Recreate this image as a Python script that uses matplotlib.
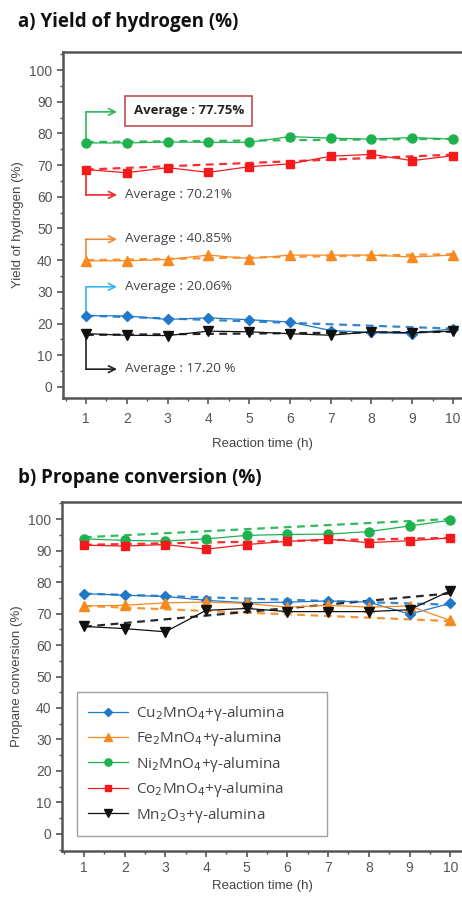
import matplotlib
matplotlib.use("Agg")
import matplotlib.pyplot as plt
from matplotlib.ticker import MultipleLocator

plt.rcParams['font.family'] = ['Liberation Sans', 'DejaVu Sans']

hours = [1, 2, 3, 4, 5, 6, 7, 8, 9, 10]

# Hydrogen yield (%)
h2_cu = [22.5, 22.4, 21.3, 21.8, 21.2, 20.5, 17.8, 17.2, 16.8, 18.4]
h2_fe = [39.8, 39.8, 40.2, 41.6, 40.5, 41.6, 41.6, 41.6, 41.0, 41.6]
h2_ni = [77.0, 77.0, 77.3, 77.2, 77.2, 79.0, 78.5, 78.2, 78.7, 78.2]
h2_co = [68.6, 67.6, 69.2, 67.7, 69.5, 70.4, 72.8, 73.4, 71.4, 73.0]
h2_mn = [16.8, 16.3, 16.2, 17.6, 17.4, 16.8, 16.3, 17.4, 17.1, 17.6]

# Linear trend of each series (value at 1 h and at 10 h)
h2_trend_cu = [22.5, 18.4]
h2_trend_fe = [40.0, 41.9]
h2_trend_ni = [77.3, 78.3]
h2_trend_co = [68.6, 73.3]
h2_trend_mn = [16.4, 17.4]

# Propane conversion (%)
c3_cu = [76.3, 75.8, 75.4, 74.2, 73.4, 73.6, 74.0, 73.6, 69.8, 73.2]
c3_fe = [72.4, 72.6, 73.4, 73.6, 73.2, 72.0, 72.6, 72.0, 72.4, 67.8]
c3_ni = [93.7, 93.2, 93.0, 93.7, 94.8, 95.1, 95.2, 96.0, 97.8, 99.6]
c3_co = [91.7, 91.4, 91.9, 90.4, 91.9, 92.9, 93.6, 92.5, 93.1, 94.0]
c3_mn = [65.9, 65.2, 64.2, 71.0, 71.6, 70.6, 70.6, 70.6, 71.2, 77.2]

c3_trend_cu = [76.3, 72.8]
c3_trend_fe = [72.4, 67.6]
c3_trend_ni = [94.2, 100.0]
c3_trend_co = [91.8, 94.0]
c3_trend_mn = [65.8, 76.4]

labels = ['Cu$_2$MnO$_4$+γ-alumina', 'Fe$_2$MnO$_4$+γ-alumina',
          'Ni$_2$MnO$_4$+γ-alumina', 'Co$_2$MnO$_4$+γ-alumina',
          'Mn$_2$O$_3$+γ-alumina']

avg_texts = ['Average : 20.06%', 'Average : 40.85%', 'Average : 77.75%',
             'Average : 70.21%', 'Average : 17.20 %']
avg_arrow_y = [31.6, 46.6, 86.8, 60.6, 5.6]

colors = ['#1f78c8', '#f7891f', '#1eb24e', '#f5191c', '#111111']
arrow_colors = ['#35b5ee', '#f0893a', '#2ab85a', '#f2262b', '#222222']
markers = ['D', '^', 'o', 's', 'v']
msizes = [5.5, 6.5, 6.5, 6, 6.5]

h2_series = [h2_cu, h2_fe, h2_ni, h2_co, h2_mn]
h2_trends = [h2_trend_cu, h2_trend_fe, h2_trend_ni, h2_trend_co, h2_trend_mn]
c3_series = [c3_cu, c3_fe, c3_ni, c3_co, c3_mn]
c3_trends = [c3_trend_cu, c3_trend_fe, c3_trend_ni, c3_trend_co, c3_trend_mn]

W, H = 462, 899
fig = plt.figure(figsize=(W / 100, H / 100), dpi=100)

ax1 = fig.add_axes([63 / W, 1 - 398 / H, 1 - 63 / W, (398 - 52) / H])
ax2 = fig.add_axes([62 / W, 1 - 851 / H, 1 - 62 / W, (851 - 502) / H])

spine_c = '#555555'
tick_c = '#555555'
note_font = ['Open Sans', 'DejaVu Sans']


def style_axes(ax, ylim, xlim, ylabel, xpad, xlabelpad):
    ax.set_xlim(*xlim)
    ax.set_ylim(*ylim)
    ax.xaxis.set_major_locator(MultipleLocator(1))
    ax.xaxis.set_minor_locator(MultipleLocator(0.5))
    ax.yaxis.set_major_locator(MultipleLocator(10))
    ax.yaxis.set_minor_locator(MultipleLocator(5))
    for s in ['top', 'left', 'bottom']:
        ax.spines[s].set_color(spine_c)
        ax.spines[s].set_linewidth(1.8)
    ax.spines['right'].set_visible(False)
    ax.tick_params(axis='both', which='major', direction='out', length=4,
                   width=1.2, color=spine_c, labelcolor=tick_c, labelsize=10)
    ax.tick_params(axis='both', which='minor', direction='out', length=2.5,
                   width=1.0, color=spine_c)
    ax.tick_params(axis='x', which='major', pad=xpad)
    ax.set_xlabel('Reaction time (h)', color='#444444', fontsize=9.5,
                  labelpad=xlabelpad)
    ax.set_ylabel(ylabel, color='#444444', fontsize=9.5, labelpad=4)


def draw_series(ax, series, trends):
    lines = []
    for vals, tr, c, m, ms in zip(series, trends, colors, markers, msizes):
        ln, = ax.plot(hours, vals, color=c, lw=0.9, marker=m, ms=ms,
                      markeredgecolor=c, zorder=3)
        ax.plot([hours[0], hours[-1]], tr, color=c, lw=1.6, ls=(0, (3.5, 2.5)),
                alpha=0.9, zorder=2)
        lines.append(ln)
    return lines


style_axes(ax1, (-3.5, 105.7), (0.436, 10.22), 'Yield of hydrogen (%)', 6, 9)
style_axes(ax2, (-5.4, 105.4), (0.459, 10.29), 'Propane conversion (%)', 3, 4)

draw_series(ax1, h2_series, h2_trends)
handles = draw_series(ax2, c3_series, c3_trends)

# Average call-outs: elbow arrow from the first point of each series
x_arrow_end = 1.76
x_text = 1.95
for i, (vals, txt, ya, ac) in enumerate(zip(h2_series, avg_texts, avg_arrow_y,
                                             arrow_colors)):
    ax1.plot([hours[0], hours[0]], [vals[0], ya], color=ac, lw=1.2, zorder=2)
    ax1.annotate('', xy=(x_arrow_end, ya), xytext=(hours[0], ya),
                 arrowprops=dict(arrowstyle='->', color=ac, lw=1.2,
                                 shrinkA=0, shrinkB=0, mutation_scale=12))
    if i == 2:
        ax1.text(3.52, ya + 0.4, txt, ha='center', va='center', fontsize=9.5,
                 fontweight='bold', color='#222222', family=note_font,
                 bbox=dict(boxstyle='square,pad=0.65', fc='white',
                           ec='#c0504d', lw=1.2))
    else:
        ax1.text(x_text, ya + 0.2, txt, ha='left', va='center', fontsize=9.7,
                 color='#444444', family=note_font)

# Legend box stretched to a fixed width in axes coordinates
x0 = (77 - 62) / (W - 62)
y0 = (851 - 836) / (851 - 502)
wbox = (327 - 77) / (W - 62)
hbox = (836 - 694) / (851 - 502)
leg = ax2.legend(handles, labels, loc='lower left',
                 bbox_to_anchor=(x0, y0, wbox, hbox), mode='expand',
                 prop={'family': note_font, 'size': 11}, frameon=True,
                 fancybox=False, handlelength=2.6, markerscale=0.8,
                 labelspacing=0.42, borderpad=0.75, handletextpad=0.5,
                 borderaxespad=0, labelcolor='#444444')
leg.get_frame().set_edgecolor('#888888')
leg.get_frame().set_linewidth(1.0)

fig.text(18 / W, 1 - 22 / H, 'a) Yield of hydrogen (%)', fontsize=13.5,
         fontweight='bold', va='center', ha='left', color='#111111',
         family=note_font)
fig.text(18 / W, 1 - 478 / H, 'b) Propane conversion (%)', fontsize=13.5,
         fontweight='bold', va='center', ha='left', color='#111111',
         family=note_font)

fig.savefig('out.png', dpi=100)
